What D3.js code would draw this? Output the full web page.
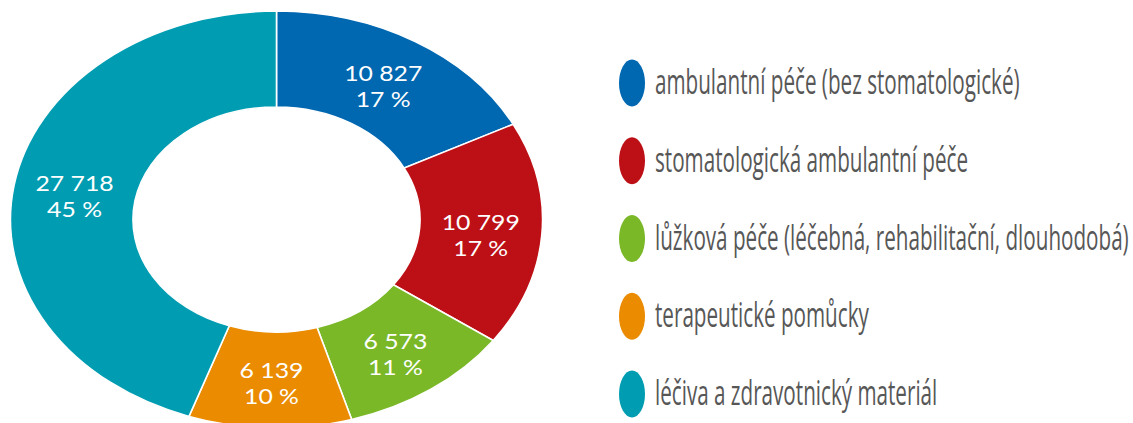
<!DOCTYPE html>
<html>
<head>
<meta charset="utf-8">
<script src="https://cdn.jsdelivr.net/npm/d3@7"></script>
<style>
  body { margin: 0; background: #fff; }
  #chart { width: 1133px; height: 423px; }
  .lbl { font-family: Lato, "Open Sans", sans-serif; font-size: 21px; fill: #fff; }
  .leg { font-family: "Open Sans", sans-serif; font-size: 35px; fill: #575757; }
</style>
</head>
<body>
<div id="chart"></div>
<script>
// Data
var categories = [
    "ambulantní péče (bez stomatologické)",
    "stomatologická ambulantní péče",
    "lůžková péče (léčebná, rehabilitační, dlouhodobá)",
    "terapeutické pomůcky",
    "léčiva a zdravotnický materiál"
];
var values = [10827, 10799, 6573, 6139, 27718];
var valueLabels = ["10 827", "10 799", "6 573", "6 139", "27 718"];
var percentLabels = ["17 %", "17 %", "11 %", "10 %", "45 %"];
var colors = ["#0067b1", "#bd1016", "#7ab828", "#ea8b00", "#009db2"];

var width = 1133, height = 423;
var svg = d3.select("#chart").append("svg")
    .attr("width", width)
    .attr("height", height);

// donut is stretched sideways in the original
var cx = 276.5, cy = 219.5;
var outerR = 208.5, innerR = 112.5;
var stretch = 1.276;

var pie = d3.pie().sort(null).value(function(d) { return d; });
var arcs = pie(values);
var arc = d3.arc().innerRadius(innerR).outerRadius(outerR);

var donut = svg.append("g")
    .attr("transform", "translate(" + cx + "," + cy + ") scale(" + stretch + ",1)");

donut.selectAll(".slice")
    .data(arcs)
    .enter()
    .append("path")
        .attr("class", "slice")
        .attr("d", arc)
        .attr("fill", function(d, i) { return colors[i]; })
        .attr("stroke", "#fff")
        .attr("stroke-width", 1.6)
        .style("vector-effect", "non-scaling-stroke");

// Slice labels (value + share, two lines)
var labels = svg.append("g").attr("id", "labels");
arcs.forEach(function(d, i) {
    var c = arc.centroid(d);
    var x = cx + c[0] * stretch;
    var y = cy + c[1] + 4;
    var g = labels.append("g")
        .attr("transform", "translate(" + x + "," + y + ") scale(1.18,1)");
    g.append("text")
        .attr("class", "lbl")
        .attr("text-anchor", "middle")
        .attr("y", -5.5)
        .text(valueLabels[i]);
    g.append("text")
        .attr("class", "lbl")
        .attr("text-anchor", "middle")
        .attr("y", 20.5)
        .text(percentLabels[i]);
});

// Legend
var legY = d3.scalePoint()
    .domain(categories)
    .range([83, 394]);

var legend = svg.append("g").attr("id", "legend");
var items = legend.selectAll(".item")
    .data(categories)
    .enter()
    .append("g")
        .attr("class", "item")
        .attr("transform", function(d) { return "translate(632," + legY(d) + ")"; });

items.append("ellipse")
    .attr("rx", 13)
    .attr("ry", 23.5)
    .attr("fill", function(d, i) { return colors[i]; });

items.append("text")
    .attr("class", "leg")
    .attr("transform", "translate(23,11) scale(0.59,1)")
    .text(function(d) { return d; });
</script>
</body>
</html>
